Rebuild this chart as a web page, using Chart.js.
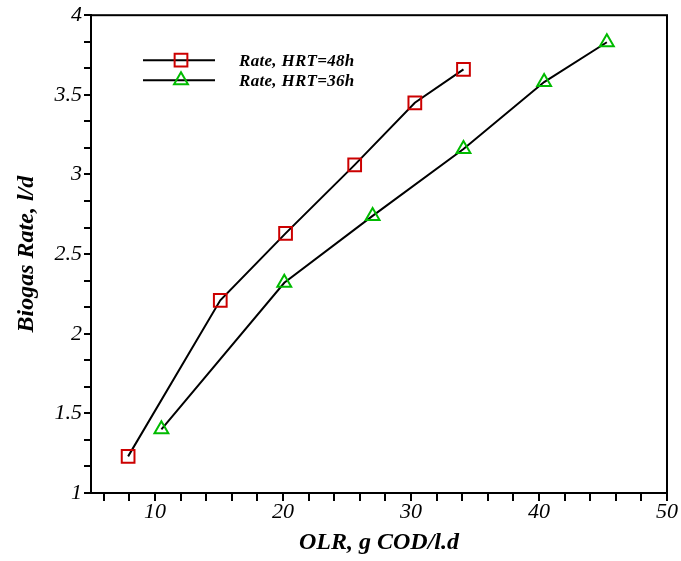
<!DOCTYPE html>
<html>
<head>
<meta charset="utf-8">
<script src="https://cdn.jsdelivr.net/npm/chart.js@4.4.1/dist/chart.umd.min.js"></script>
<style>
html, body { margin: 0; padding: 0; background: #fff; }
#wrap { width: 681px; height: 561px; }
</style>
</head>
<body>
<div id="wrap"><canvas id="chart" width="681" height="561"></canvas></div>
<script>
// OLR (g COD/l.d) vs biogas rate (l/d)
var olr48 = [7.9, 15.1, 20.2, 25.6, 30.3, 34.1];
var rate48 = [1.23, 2.21, 2.63, 3.06, 3.45, 3.66];
var olr36 = [10.5, 20.1, 27.0, 34.1, 40.4, 45.3];
var rate36 = [1.40, 2.32, 2.74, 3.16, 3.58, 3.83];
var seriesNames = ['Rate, HRT=48h', 'Rate, HRT=36h'];
var xTickLabels = [10, 20, 30, 40, 50];
var yTickLabels = [1, 1.5, 2, 2.5, 3, 3.5, 4];

function toPoints(xs, ys) {
    return xs.map(function (x, i) { return { x: x, y: ys[i] }; });
}

var serif = "'Liberation Serif', 'DejaVu Serif', serif";

var frame = {
    id: 'frame',
    afterDraw: function (chart) {
        var a = chart.chartArea, c = chart.ctx;
        c.save();
        c.strokeStyle = '#000';
        c.lineWidth = 2;
        c.strokeRect(a.left, a.top, a.right - a.left, a.bottom - a.top);

        // legend inside plot
        var items = [
            { label: seriesNames[0], style: 'rect', color: '#cc0000', r: 9 },
            { label: seriesNames[1], style: 'triangle', color: '#00bb00', r: 8 }
        ];
        var x0 = a.left + 52, y0 = a.top + 45;
        items.forEach(function (it, i) {
            var y = y0 + i * 20;
            c.strokeStyle = '#000';
            c.lineWidth = 2;
            c.beginPath();
            c.moveTo(x0, y);
            c.lineTo(x0 + 72, y);
            c.stroke();
            c.strokeStyle = it.color;
            c.fillStyle = 'rgba(0,0,0,0)';
            c.lineWidth = 2;
            Chart.helpers.drawPoint(c, { pointStyle: it.style, radius: it.r, borderWidth: 2 }, x0 + 38, y);
            c.fillStyle = '#000';
            c.font = "italic bold 17px " + serif;
            c.letterSpacing = '0.3px';
            c.textBaseline = 'middle';
            c.fillText(it.label, x0 + 96, y + 1);
        });
        c.restore();
    }
};

new Chart(document.getElementById('chart').getContext('2d'), {
    type: 'scatter',
    data: {
        datasets: [{
            label: seriesNames[0],
            data: toPoints(olr48, rate48),
            showLine: true,
            borderColor: '#000',
            borderWidth: 2,
            pointStyle: 'rect',
            pointRadius: 9,
            pointBorderColor: '#cc0000',
            pointBackgroundColor: 'rgba(0,0,0,0)',
            pointBorderWidth: 2
        }, {
            label: seriesNames[1],
            data: toPoints(olr36, rate36),
            showLine: true,
            borderColor: '#000',
            borderWidth: 2,
            pointStyle: 'triangle',
            pointRadius: 8,
            pointBorderColor: '#00bb00',
            pointBackgroundColor: 'rgba(0,0,0,0)',
            pointBorderWidth: 2
        }]
    },
    options: {
        responsive: false,
        animation: false,
        layout: { padding: { top: 14, right: 14, left: 8, bottom: 0 } },
        plugins: { legend: { display: false }, tooltip: { enabled: false } },
        scales: {
            x: {
                type: 'linear',
                min: 5,
                max: 50,
                afterBuildTicks: function (s) {
                    var t = [];
                    for (var v = 6; v <= 50; v += 2) t.push({ value: v });
                    s.ticks = t;
                },
                afterFit: function (s) { s.height = 68; },
                border: { display: true, color: '#000', width: 2 },
                grid: { drawOnChartArea: false, color: '#000', lineWidth: 2, tickLength: 8 },
                ticks: {
                    autoSkip: false,
                    maxRotation: 0,
                    color: '#000',
                    padding: -2,
                    font: { family: serif, size: 22, style: 'italic' },
                    callback: function (v) { return xTickLabels.indexOf(v) >= 0 ? String(v) : ''; }
                },
                title: {
                    display: true,
                    text: 'OLR, g COD/l.d',
                    color: '#000',
                    padding: { top: 8 },
                    font: { family: serif, size: 24, style: 'italic', weight: 'bold' }
                }
            },
            y: {
                type: 'linear',
                min: 1,
                max: 4,
                afterBuildTicks: function (s) {
                    var t = [];
                    for (var i = 0; i <= 18; i++) t.push({ value: 1 + i / 6 });
                    s.ticks = t;
                },
                afterFit: function (s) { s.width = 83; },
                border: { display: true, color: '#000', width: 2 },
                grid: { drawOnChartArea: false, color: '#000', lineWidth: 2, tickLength: 7 },
                ticks: {
                    autoSkip: false,
                    color: '#000',
                    padding: 2,
                    font: { family: serif, size: 22, style: 'italic' },
                    callback: function (v) {
                        for (var k = 0; k < yTickLabels.length; k++) {
                            if (Math.abs(yTickLabels[k] - v) < 1e-6) return String(yTickLabels[k]);
                        }
                        return '';
                    }
                },
                title: {
                    display: true,
                    text: 'Biogas Rate, l/d',
                    color: '#000',
                    padding: { bottom: 12 },
                    font: { family: serif, size: 24, style: 'italic', weight: 'bold' }
                }
            }
        }
    },
    plugins: [frame]
});
</script>
</body>
</html>
